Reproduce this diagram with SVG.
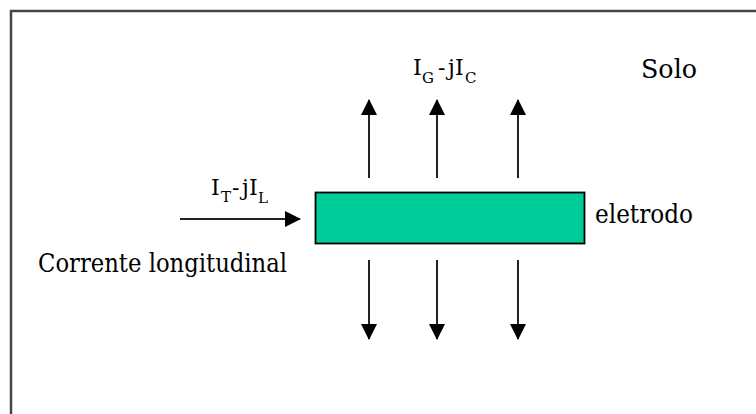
<svg xmlns="http://www.w3.org/2000/svg" width="756" height="414" viewBox="0 0 756 414">
<style>
text{font-family:"DejaVu Serif","Liberation Serif",serif;fill:#000}
.big{font-size:26px}
.f{font-size:22px}
.s{font-size:15px}
.ln{stroke:#222;stroke-width:2;fill:none}
</style>
<defs>
<marker id="ah" markerUnits="userSpaceOnUse" markerWidth="16" markerHeight="16" viewBox="0 0 16 16" refX="15" refY="8" orient="auto">
<path d="M0,0 L16,8 L0,16 Z" fill="#000"/>
</marker>
</defs>
<rect width="756" height="414" fill="#fff"/>
<g id="frame">
<path d="M11,414 V11 H756" fill="none" stroke="#444" stroke-width="2.5"/>
</g>
<g id="eletrodo">
<rect x="315.5" y="192.5" width="269" height="51" fill="#00CC99" stroke="#000" stroke-width="1.8"/>
<text class="big" x="595" y="223" textLength="98" lengthAdjust="spacingAndGlyphs">eletrodo</text>
</g>
<g id="solo">
<text class="big" x="641" y="78" textLength="56" lengthAdjust="spacingAndGlyphs">Solo</text>
</g>
<g id="corrente">
<text class="big" x="38" y="272" textLength="249" lengthAdjust="spacingAndGlyphs">Corrente longitudinal</text>
<text class="f" x="211" y="195">I</text>
<text class="s" x="221" y="202">T</text>
<text class="f" x="232" y="195">-</text>
<text class="f" x="242" y="195">j</text>
<text class="f" x="249" y="195">I</text>
<text class="s" x="258" y="203">L</text>
</g>
<g id="fuga">
<text class="f" x="413" y="75">I</text>
<text class="s" x="422" y="83">G</text>
<text class="f" x="438" y="75">-</text>
<text class="f" x="448" y="75">j</text>
<text class="f" x="455" y="75">I</text>
<text class="s" x="465" y="83">C</text>
</g>
<g id="connectors">
<line class="ln" x1="180" y1="219" x2="300" y2="219" marker-end="url(#ah)"/>
<line class="ln" x1="369" y1="178" x2="369" y2="100" marker-end="url(#ah)"/>
<line class="ln" x1="437" y1="178" x2="437" y2="100" marker-end="url(#ah)"/>
<line class="ln" x1="518" y1="178" x2="518" y2="100" marker-end="url(#ah)"/>
<line class="ln" x1="369" y1="260" x2="369" y2="339" marker-end="url(#ah)"/>
<line class="ln" x1="437" y1="260" x2="437" y2="339" marker-end="url(#ah)"/>
<line class="ln" x1="518" y1="260" x2="518" y2="339" marker-end="url(#ah)"/>
</g>
</svg>
